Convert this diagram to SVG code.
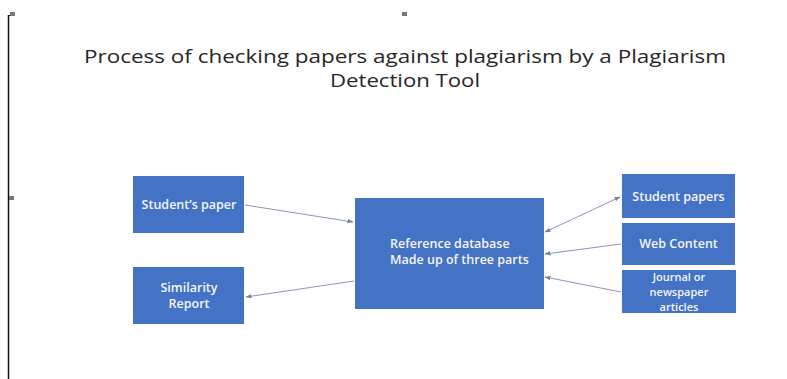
<svg xmlns="http://www.w3.org/2000/svg" width="787" height="379" viewBox="0 0 787 379">
  <style>
    .box { fill: #4472C4; }
    .lbl { font-family: "Open Sans", "Liberation Sans", sans-serif; font-size: 12.5px; font-weight: 600; fill: #f4f6fb; }
    .small { font-size: 11px; }
    .title { font-family: "Open Sans", "Liberation Sans", sans-serif; font-size: 18px; fill: #262626; }
    .conn { stroke: #8597bb; stroke-width: 1; fill: none; }
    .handle { fill: #777777; }
  </style>
  <defs>
    <marker id="arrow" viewBox="0 0 6 6" refX="5.5" refY="3" markerWidth="6" markerHeight="6" orient="auto-start-reverse" markerUnits="userSpaceOnUse">
      <path d="M0,0.8 L6,3 L0,5.2 Z" fill="#6d80a6"/>
    </marker>
  </defs>
  <rect width="787" height="379" fill="#ffffff"/>

  <!-- page frame edge and selection handles -->
  <g id="frame">
    <line x1="8.5" y1="15" x2="8.5" y2="379" stroke="#111111" stroke-width="1.5"/>
    <line x1="8" y1="15.5" x2="14" y2="15.5" stroke="#111111" stroke-width="1"/>
    <rect class="handle" x="10" y="12" width="5" height="4"/>
    <rect class="handle" x="402" y="12" width="5" height="4"/>
    <rect class="handle" x="9" y="196" width="5" height="4"/>
  </g>

  <g id="title">
    <text class="title" x="405" y="63" text-anchor="middle" textLength="642" lengthAdjust="spacingAndGlyphs">Process of checking papers against plagiarism by a Plagiarism</text>
    <text class="title" x="405" y="87" text-anchor="middle" textLength="150" lengthAdjust="spacingAndGlyphs">Detection Tool</text>
  </g>

  <g id="connectors">
    <line class="conn" x1="245" y1="205" x2="353" y2="222" marker-end="url(#arrow)"/>
    <line class="conn" x1="354" y1="281" x2="246" y2="297" marker-end="url(#arrow)"/>
    <line class="conn" x1="545" y1="232" x2="620" y2="197" marker-start="url(#arrow)" marker-end="url(#arrow)"/>
    <line class="conn" x1="621" y1="244" x2="545" y2="254" marker-end="url(#arrow)"/>
    <line class="conn" x1="621" y1="292" x2="545" y2="277" marker-end="url(#arrow)"/>
  </g>

  <g id="students-paper">
    <rect class="box" x="133" y="176" width="111" height="57"/>
    <text class="lbl" x="189" y="209" text-anchor="middle">Student’s paper</text>
  </g>

  <g id="similarity-report">
    <rect class="box" x="133" y="267" width="111" height="57"/>
    <text class="lbl" x="189" y="292" text-anchor="middle">Similarity</text>
    <text class="lbl" x="189" y="308" text-anchor="middle">Report</text>
  </g>

  <g id="reference-database">
    <rect class="box" x="355" y="198" width="189" height="111"/>
    <text class="lbl" x="390" y="248">Reference database</text>
    <text class="lbl" x="390" y="264">Made up of three parts</text>
  </g>

  <g id="student-papers">
    <rect class="box" x="622" y="174" width="113" height="44"/>
    <text class="lbl" x="678.5" y="201" text-anchor="middle">Student papers</text>
  </g>

  <g id="web-content">
    <rect class="box" x="622" y="223" width="113" height="42"/>
    <text class="lbl" x="678.5" y="248" text-anchor="middle">Web Content</text>
  </g>

  <g id="journal-articles">
    <rect class="box" x="622" y="270" width="114" height="43"/>
    <text class="lbl small" x="679" y="281" text-anchor="middle">Journal or</text>
    <text class="lbl small" x="679" y="296" text-anchor="middle">newspaper</text>
    <text class="lbl small" x="679" y="311" text-anchor="middle">articles</text>
  </g>
</svg>
